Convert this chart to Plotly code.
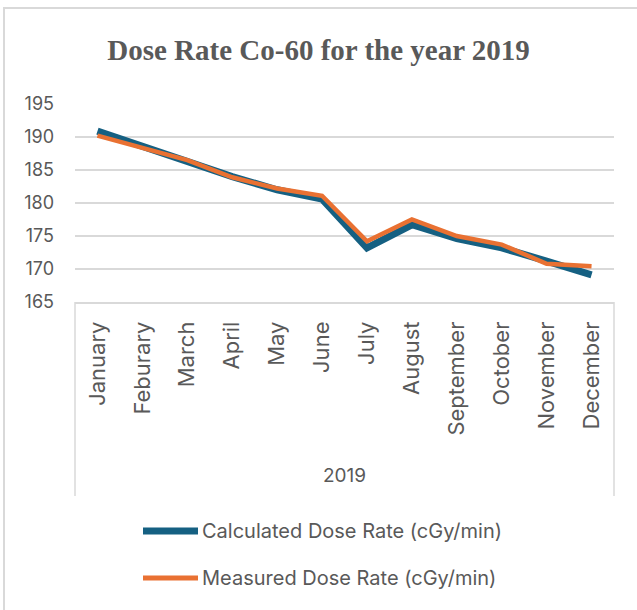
import plotly.graph_objects as go

# Monthly Co-60 dose rate readings for 2019 (cGy/min)
months = ["January", "Feburary", "March", "April", "May", "June",
          "July", "August", "September", "October", "November", "December"]
calculated = [190.9, 188.6, 186.3, 184.0, 182.0, 180.6,
              173.2, 176.7, 174.6, 173.2, 171.2, 169.1]
measured = [190.2, 188.4, 186.5, 183.9, 182.2, 181.1,
            174.2, 177.5, 175.0, 173.7, 170.8, 170.4]
year_label = "2019"
series_names = ["Calculated Dose Rate (cGy/min)", "Measured Dose Rate (cGy/min)"]
series_colors = ["#156082", "#E97132"]
y_ticks = [165, 170, 175, 180, 185, 190, 195]

W, H = 637, 610
L, R, T, B = 75, 23, 104, 308
PW, PH = W - L - R, H - T - B
GRID = "#d9d9d9"
TXT = "#595959"
SANS = "Inter, Liberation Sans, Arial, sans-serif"


def px(x):
    return (x - L) / PW


def py(y):
    return (H - B - y) / PH


fig = go.Figure()
fig.add_trace(go.Scatter(x=months, y=calculated, mode="lines", name=series_names[0],
                         line=dict(color=series_colors[0], width=7), showlegend=False))
fig.add_trace(go.Scatter(x=months, y=measured, mode="lines", name=series_names[1],
                         line=dict(color=series_colors[1], width=4.5), showlegend=False))

shapes = []
# outer chart frame
shapes.append(dict(type="rect", xref="paper", yref="paper",
                   x0=px(4), x1=px(645), y0=py(620), y1=py(8),
                   line=dict(color=GRID, width=2), fillcolor="rgba(0,0,0,0)", layer="below"))
# category group brackets
for xv in (L, W - R):
    shapes.append(dict(type="line", xref="paper", yref="paper",
                       x0=px(xv), x1=px(xv), y0=py(H - B), y1=py(496),
                       line=dict(color=GRID, width=1.5)))

annotations = [dict(text=year_label, xref="paper", yref="paper", x=0.5, y=py(475),
                    showarrow=False, font=dict(family=SANS, size=19, color=TXT),
                    xanchor="center", yanchor="middle")]

# legend
leg_rows = [531, 578]
leg_widths = [7, 5]
for name, color, yrow, lw in zip(series_names, series_colors, leg_rows, leg_widths):
    shapes.append(dict(type="line", xref="paper", yref="paper",
                       x0=px(143), x1=px(198), y0=py(yrow), y1=py(yrow),
                       line=dict(color=color, width=lw)))
    annotations.append(dict(text=name, xref="paper", yref="paper", x=px(200), y=py(yrow),
                            showarrow=False, xanchor="left", yanchor="middle",
                            font=dict(family=SANS, size=20, color=TXT)))

fig.update_layout(
    template="none",
    width=W, height=H,
    margin=dict(l=L, r=R, t=T, b=B, pad=0),
    paper_bgcolor="white", plot_bgcolor="white",
    title=dict(text="<b>Dose Rate Co-60 for the year 2019</b>",
               font=dict(family="Liberation Serif, Times New Roman, serif", size=29, color=TXT),
               x=0.5, xanchor="center", y=1 - 50 / H, yanchor="middle"),
    shapes=shapes,
    annotations=annotations,
    showlegend=False,
)
fig.update_xaxes(
    type="category", categoryorder="array", categoryarray=months,
    range=[-0.5, len(months) - 0.5], automargin=False,
    showgrid=False, showline=True, linecolor=GRID, linewidth=1.5,
    ticks="", tickangle=-90, ticklabelstandoff=9,
    tickfont=dict(family=SANS, size=22, color=TXT), zeroline=False,
)
fig.update_yaxes(
    range=[165, 195], tickvals=y_ticks, automargin=False,
    showgrid=True, gridcolor=GRID, gridwidth=1.5, zeroline=False, showline=False,
    ticks="", ticklabelstandoff=20,
    tickfont=dict(family=SANS, size=18, color=TXT),
)

fig.write_html("out.html")
